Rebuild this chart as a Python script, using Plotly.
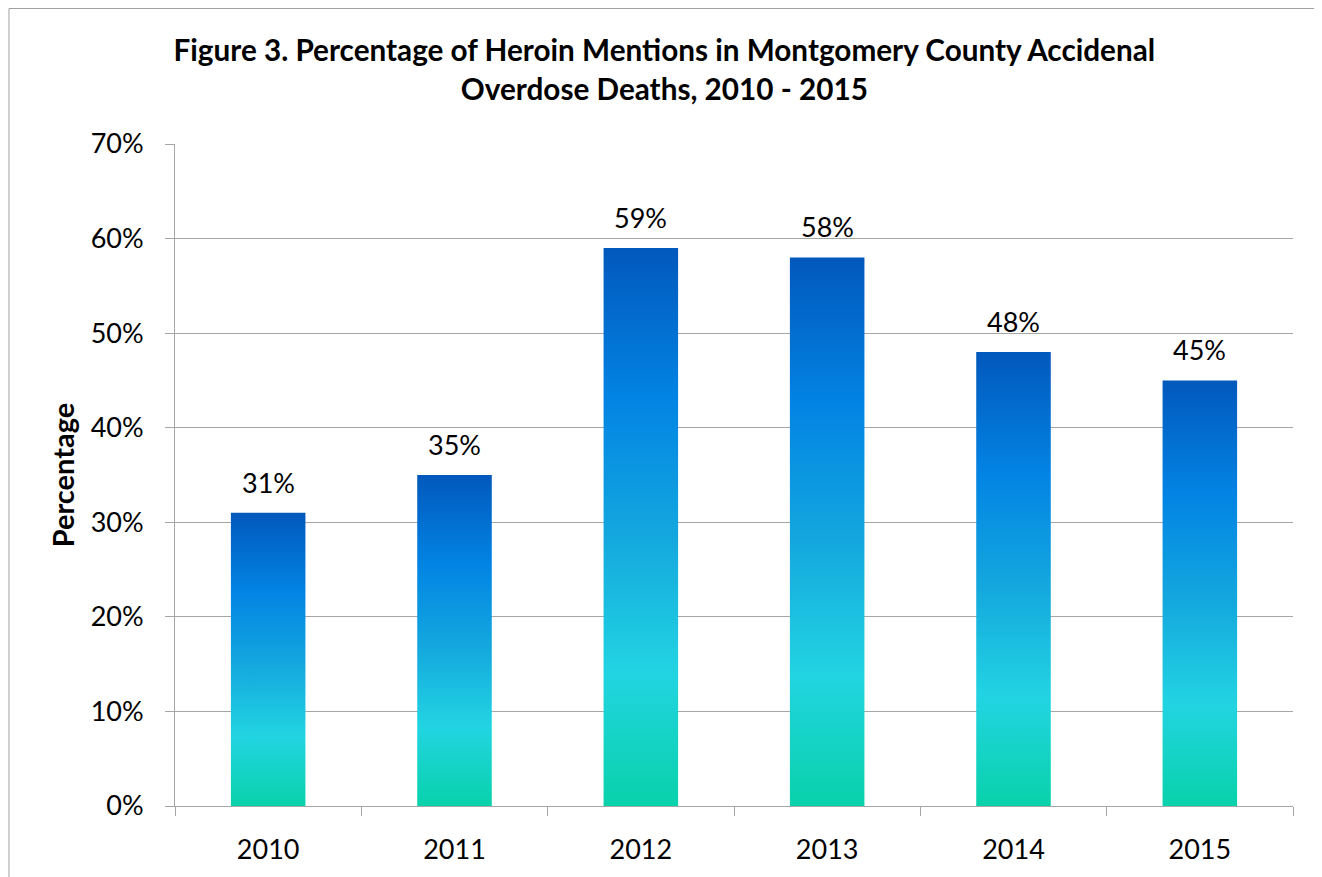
import plotly.graph_objects as go

years = ["2010", "2011", "2012", "2013", "2014", "2015"]
values = [0.31, 0.35, 0.59, 0.58, 0.48, 0.45]
labels = ["31%", "35%", "59%", "58%", "48%", "45%"]

FONT = "Lato"
GRID = "#a6a6a6"
grad = [[0.0, "rgb(8,210,170)"], [0.24, "rgb(34,212,226)"], [0.48, "rgb(20,168,222)"],
        [0.73, "rgb(2,132,228)"], [1.0, "rgb(2,88,188)"]]
bar_w = 0.4
pos = list(range(len(years)))
bounds = [p - 0.5 for p in pos] + [pos[-1] + 0.5]

fig = go.Figure()
for i, v in zip(pos, values):
    xs = [i - bar_w / 2, i + bar_w / 2, i + bar_w / 2, i - bar_w / 2, i - bar_w / 2]
    ys = [0, 0, v, v, 0]
    fig.add_trace(go.Scatter(x=xs, y=ys, mode="lines", line=dict(width=0),
                             fill="toself", fillgradient=dict(type="vertical", colorscale=grad),
                             hoverinfo="skip", showlegend=False))

for i, v, t in zip(pos, values, labels):
    fig.add_annotation(x=i, y=v, text=t, showarrow=False, yanchor="bottom", yshift=12,
                       font=dict(family=FONT, size=27, color="black"))

fig.add_shape(type="rect", xref="paper", yref="paper", x0=-0.1485, x1=1.025, y0=-0.3, y1=1.2047,
              line=dict(color="#a0a0a0", width=1), layer="above")

fig.update_layout(
    width=1314, height=869,
    margin=dict(l=167, r=29, t=136, b=71, autoexpand=False),
    paper_bgcolor="white", plot_bgcolor="white",
    title=dict(text="<b>Figure 3. Percentage of Heroin Mentions in Montgomery County Accidenal<br>Overdose Deaths, 2010 - 2015</b>",
               x=0.4995, xref="container", xanchor="center", y=0.939, yanchor="top", yref="container",
               font=dict(family=FONT, size=29.7, color="black")),
    xaxis=dict(range=[bounds[0], bounds[-1]], tickvals=pos, ticktext=years, ticks="",
               minor=dict(tickvals=bounds, ticks="outside", ticklen=9, tickcolor=GRID, showgrid=False),
               showline=True, linecolor=GRID, linewidth=1, showgrid=False, zeroline=False,
               tickfont=dict(family=FONT, size=27, color="black"), ticklabelstandoff=20),
    yaxis=dict(range=[0, 0.7], dtick=0.1, tickformat=".0%", ticks="outside", ticklen=9, tickcolor=GRID,
               showline=True, linecolor=GRID, linewidth=1, showgrid=True, gridcolor=GRID, gridwidth=1,
               zeroline=False, tickfont=dict(family=FONT, size=27, color="black"), ticklabelstandoff=16,
               title=dict(text="<b>Percentage</b>", font=dict(family=FONT, size=29, color="black"), standoff=7)),
)

fig.write_html("out.html")
